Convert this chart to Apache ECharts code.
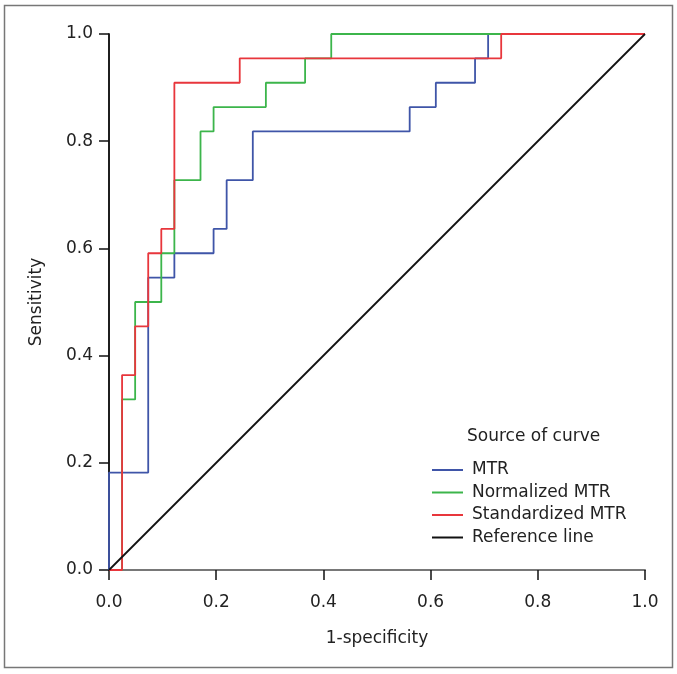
<!DOCTYPE html>
<html>
<head>
<meta charset="utf-8">
<script src="https://cdn.jsdelivr.net/npm/echarts@6/dist/echarts.min.js"></script>
<style>
html,body{margin:0;padding:0;background:#fff;}
#c{width:677px;height:674px;}
</style>
</head>
<body>
<div id="c"></div>
<script>
// ROC data: 41 negatives, 22 positives (counts of false / true positives at each corner)
const NNEG = 41, NPOS = 22;
const mtrFP  = [0, 0, 3, 5, 8, 9, 11, 23, 25, 28, 29, 41];
const mtrTP  = [0, 4, 12, 13, 14, 16, 18, 19, 20, 21, 22, 22];
const normFP = [0, 1, 2, 4, 5, 7, 8, 12, 15, 17, 41];
const normTP = [0, 7, 11, 13, 16, 18, 19, 20, 21, 22, 22];
const stdFP  = [0, 1, 2, 3, 4, 5, 10, 30, 41];
const stdTP  = [0, 8, 10, 13, 14, 20, 21, 22, 22];
const refX = [0, 1];
const refY = [0, 1];
const seriesNames = ['MTR', 'Normalized MTR', 'Standardized MTR', 'Reference line'];
const tickLabels = ['0.0', '0.2', '0.4', '0.6', '0.8', '1.0'];

function pts(fp, tp) { return fp.map((v, i) => [v / NNEG, tp[i] / NPOS]); }

const FONT = 'DejaVu Sans';
const TXT = '#222';
const chart = echarts.init(document.getElementById('c'), null, {renderer: 'canvas'});
const axisLab = {
  color: TXT, fontFamily: FONT, fontSize: 17,
  formatter: v => tickLabels[Math.round(v * 5)]
};
chart.setOption({
  animation: false,
  backgroundColor: '#fff',
  title: {
    text: 'Source of curve', left: 467, top: 428, padding: 0,
    textStyle: {fontFamily: FONT, fontSize: 17, fontWeight: 'normal', color: TXT}
  },
  legend: {
    orient: 'vertical', left: 432, top: 460, padding: 0,
    icon: 'rect', itemWidth: 31, itemHeight: 2, itemGap: 2.5,
    data: seriesNames,
    textStyle: {fontFamily: FONT, fontSize: 17, color: TXT, lineHeight: 20, padding: [0, 0, 0, 4]}
  },
  grid: {left: 109, right: 32, top: 34, bottom: 104},
  xAxis: [{
    type: 'value', min: 0, max: 1, interval: 0.2,
    name: '1-specificity', nameLocation: 'middle', nameGap: 60,
    nameTextStyle: {fontFamily: FONT, fontSize: 17, color: TXT},
    axisLine: {show: true, lineStyle: {color: '#111', width: 1.5}},
    axisTick: {show: true, length: 10, lineStyle: {color: '#111', width: 1.5}},
    axisLabel: Object.assign({margin: 24}, axisLab),
    splitLine: {show: false}
  }, {
    type: 'value', min: 0, max: 1, position: 'top',
    axisLine: {show: true, lineStyle: {color: '#888', width: 1.5}},
    axisTick: {show: false}, axisLabel: {show: false}, splitLine: {show: false}
  }],
  yAxis: [{
    type: 'value', min: 0, max: 1, interval: 0.2,
    name: 'Sensitivity', nameLocation: 'middle', nameGap: 64,
    nameTextStyle: {fontFamily: FONT, fontSize: 17, color: TXT},
    axisLine: {show: true, lineStyle: {color: '#111', width: 1.5}},
    axisTick: {show: true, length: 10, lineStyle: {color: '#111', width: 1.5}},
    axisLabel: Object.assign({margin: 16}, axisLab),
    splitLine: {show: false}
  }, {
    type: 'value', min: 0, max: 1, position: 'right',
    axisLine: {show: true, lineStyle: {color: '#111', width: 1.5}},
    axisTick: {show: false}, axisLabel: {show: false}, splitLine: {show: false}
  }],
  graphic: [{
    type: 'rect', silent: true,
    shape: {x: 4.5, y: 5.5, width: 668, height: 662},
    style: {fill: 'none', stroke: '#777', lineWidth: 1.5}
  }],
  series: [
    {name: seriesNames[0], type: 'line', step: 'end', symbol: 'none', data: pts(mtrFP, mtrTP),
     lineStyle: {color: '#3f55a8', width: 1.8}, itemStyle: {color: '#3f55a8'}},
    {name: seriesNames[1], type: 'line', step: 'end', symbol: 'none', data: pts(normFP, normTP),
     lineStyle: {color: '#3cb54b', width: 1.8}, itemStyle: {color: '#3cb54b'}},
    {name: seriesNames[2], type: 'line', step: 'end', symbol: 'none', data: pts(stdFP, stdTP),
     lineStyle: {color: '#e8363c', width: 1.8}, itemStyle: {color: '#e8363c'}},
    {name: seriesNames[3], type: 'line', symbol: 'none', data: refX.map((v, i) => [v, refY[i]]),
     lineStyle: {color: '#111', width: 1.8}, itemStyle: {color: '#111'}}
  ]
});
</script>
</body>
</html>
